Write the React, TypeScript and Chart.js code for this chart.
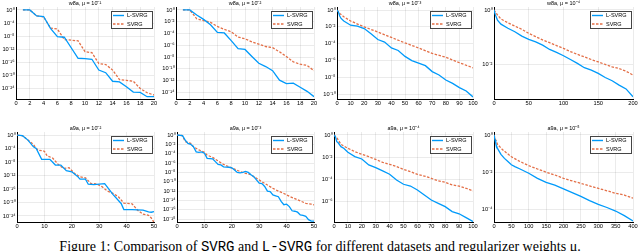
import React, { useEffect, useRef } from "react";
import { Chart, registerables } from "chart.js";
Chart.register(...registerables);

const BLUE = "#009AFA";
const ORANGE = "#E36F47";
const FONT = '"Liberation Sans", Arial, sans-serif';

// All y values are log10 of the plotted quantity (axis shown as powers of ten)
// Panel 1: w8a, mu = 1e-1
const p1X = [1, 2, 3, 4, 5, 6, 7, 8, 9, 10, 11, 12, 13, 14, 15, 16, 17, 18, 19, 20];
const p1L = [0, 0, -1.8, -2.0, -5.6, -8.1, -8.3, -11.5, -14.7, -14.8, -15.0, -18.3, -19.1, -21.7, -21.9, -23.4, -25.0, -25.1, -26.4, -26.4];
const p1S = [0, 0, -1.8, -2.1, -5.5, -5.8, -9.0, -9.2, -9.4, -12.7, -13.0, -16.3, -16.6, -18.3, -21.2, -21.4, -21.7, -23.9, -25.2, -25.9];
const p1YTicks = [0, -4, -8, -12, -16, -20, -24];
const p1XTicks = [0, 2, 4, 6, 8, 10, 12, 14, 16, 18, 20];

// Panel 2: w8a, mu = 1e-2
const p2X = [1, 2, 3, 4, 5, 6, 7, 8, 9, 10, 11, 12, 13, 14, 15, 16, 17, 18, 19, 20];
const p2L = [0, 0, -0.85, -1.6, -2.5, -3.8, -3.9, -5.2, -6.55, -6.7, -7.9, -9.05, -9.6, -10.3, -11.9, -12.5, -12.4, -13.1, -13.8, -14.7];
const p2S = [0, 0, -1.5, -1.8, -2.1, -2.8, -3.3, -3.7, -4.6, -4.9, -5.4, -5.8, -6.2, -6.4, -7.1, -7.9, -8.8, -9.2, -9.4, -10.3];
const p2YTicks = [0, -2, -4, -6, -8, -10, -12, -14];
const p2XTicks = [0, 2, 4, 6, 8, 10, 12, 14, 16, 18, 20];

// Panel 3: w8a, mu = 1e-3
const p3LX = [0, 1, 2, 3, 5, 10, 15, 20, 25, 30, 35, 40, 45, 50, 55, 60, 65, 70, 75, 80, 85, 90, 95, 100];
const p3L = [0, -0.2, -0.7, -1.0, -1.3, -1.8, -1.9, -2.2, -2.8, -3.5, -3.8, -4.5, -4.8, -5.5, -6.0, -6.3, -6.6, -7.3, -7.7, -8.3, -8.7, -9.2, -9.6, -10.3];
const p3SX = [0, 2, 5, 10, 20, 30, 40, 50, 60, 70, 80, 90, 100];
const p3S = [0, -0.4, -0.8, -1.3, -2.0, -2.6, -3.25, -3.9, -4.5, -5.15, -5.6, -6.25, -6.85];
const p3YTicks = [0, -2, -4, -6, -8, -10];
const p3XTicks = [0, 10, 20, 30, 40, 50, 60, 70, 80, 90, 100];

// Panel 4: w8a, mu = 1e-4
const p4LX = [0, 2, 5, 10, 20, 30, 40, 50, 60, 70, 80, 90, 100, 110, 120, 130, 140, 150, 160, 170, 180, 190, 200];
const p4L = [0, -0.18, -0.37, -0.52, -0.67, -0.8, -0.96, -1.08, -1.17, -1.29, -1.45, -1.56, -1.68, -1.82, -1.96, -2.12, -2.21, -2.33, -2.48, -2.6, -2.76, -2.9, -3.19];
const p4SX = [0, 5, 10, 20, 30, 40, 50, 60, 70, 80, 90, 100, 110, 120, 130, 140, 150, 160, 170, 180, 190, 200];
const p4S = [0, -0.18, -0.33, -0.47, -0.59, -0.71, -0.86, -0.98, -1.1, -1.2, -1.31, -1.41, -1.53, -1.63, -1.72, -1.82, -1.91, -2.0, -2.09, -2.15, -2.25, -2.39];
const p4YTicks = [0, -2];
const p4XTicks = [0, 50, 100, 150, 200];

// Panel 5: a9a, mu = 1e-2
const p5LX = [0, 2, 4, 6, 7, 9, 12, 14, 16, 18, 20, 22, 23, 25, 26, 28, 32, 35, 38, 39, 42, 46, 48, 49, 50];
const p5L = [0, -0.2, -1.5, -3.5, -4, -7.2, -7.2, -8.9, -8.9, -10.6, -10.9, -12.2, -13.1, -13.1, -14.6, -14.7, -14.4, -17.6, -20.3, -22.1, -22.1, -22.3, -22.8, -22.9, -22.7];
const p5SX = [0, 2, 4, 6, 7, 8, 10, 11, 13, 15, 17, 19, 21, 23, 25, 27, 29, 31, 33, 35, 37, 39, 42, 44, 46, 48, 49, 50];
const p5S = [0, -0.2, -1.5, -2.8, -4, -4.5, -4.8, -6.2, -6.8, -8.7, -9.9, -9.7, -11.4, -12.4, -12.7, -14.4, -14.5, -15.3, -16.6, -17.3, -18.3, -20.2, -20.4, -22.3, -23.5, -23.8, -24.6, -25.9];
const p5YTicks = [0, -4, -8, -12, -16, -20, -24];
const p5XTicks = [0, 10, 20, 30, 40, 50];

// Panel 6: a9a, mu = 1e-3
const p6LX = [0, 2, 3, 4, 5, 6, 7, 8, 9, 10, 11, 13, 14, 15, 16, 17, 19, 20, 21, 22, 23, 24, 25, 26, 27, 28, 29, 30, 31, 32, 33, 34, 35, 36, 37, 38, 39, 40, 41, 42, 43, 44, 45, 46, 47, 48, 49, 50];
const p6L = [0, -0.15, -1.1, -1.8, -2.0, -2.5, -3.6, -3.7, -3.6, -3.9, -5.0, -5.1, -5.7, -6.3, -6.4, -6.8, -6.9, -7.0, -7.5, -8.0, -8.1, -8.0, -7.8, -8.0, -8.5, -8.9, -9.6, -10.3, -10.4, -11.0, -12.0, -12.1, -12.8, -13.0, -13.2, -14.2, -14.9, -14.8, -15.3, -16.2, -16.3, -16.5, -17.1, -17.2, -17.4, -18.1, -18.4, -18.4];
const p6SX = [0, 2, 3, 4, 5, 6, 8, 10, 11, 13, 15, 17, 19, 21, 23, 25, 27, 29, 31, 33, 35, 37, 39, 41, 43, 45, 47, 49, 50];
const p6S = [0, -0.15, -1.4, -1.6, -1.8, -2.5, -3.2, -3.7, -4.3, -4.8, -5.55, -6.3, -6.8, -7.3, -7.8, -8.2, -8.5, -9.25, -10.0, -10.7, -11.4, -12.0, -12.5, -13.1, -13.6, -14.1, -14.6, -14.8, -14.95];
const p6YTicks = [0, -2, -4, -6, -8, -10, -12, -14, -16, -18];
const p6XTicks = [0, 10, 20, 30, 40, 50];

// Panel 7: a9a, mu = 1e-4
const p7LX = [0, 1, 2, 3, 5, 7, 10, 15, 20, 25, 30, 35, 40, 45, 50, 55, 60, 65, 70, 75, 80, 85, 90, 95, 100];
const p7L = [0, -0.15, -0.6, -0.7, -1.05, -1.2, -1.56, -1.95, -2.16, -2.7, -2.94, -3.24, -3.54, -4.05, -4.44, -4.6, -4.95, -5.4, -5.86, -6.16, -6.46, -6.9, -7.1, -7.45, -7.8];
const p7SX = [0, 2, 5, 10, 15, 20, 25, 30, 35, 40, 45, 50, 55, 60, 65, 70, 75, 80, 85, 90, 95, 100];
const p7S = [0, -0.24, -0.84, -1.2, -1.5, -1.74, -1.95, -2.2, -2.46, -2.64, -2.85, -3.1, -3.3, -3.54, -3.7, -3.9, -4.14, -4.26, -4.5, -4.6, -4.8, -5.04];
const p7YTicks = [0, -2, -4, -6];
const p7XTicks = [0, 10, 20, 30, 40, 50, 60, 70, 80, 90, 100];

// Panel 8: a9a, mu = 1e-5
const p8LX = [0, 3, 5, 10, 20, 30, 40, 50, 60, 75, 100, 125, 150, 175, 200, 225, 250, 275, 300, 325, 350, 375, 400];
const p8L = [0, -0.27, -0.45, -0.72, -1.04, -1.26, -1.43, -1.6, -1.7, -1.83, -2.06, -2.33, -2.55, -2.7, -2.9, -3.1, -3.3, -3.53, -3.73, -3.9, -4.09, -4.34, -4.63];
const p8SX = [0, 5, 10, 25, 50, 75, 100, 125, 150, 175, 200, 225, 250, 275, 300, 325, 350, 375, 400];
const p8S = [0, -0.27, -0.5, -0.8, -1.17, -1.43, -1.65, -1.83, -2.0, -2.15, -2.33, -2.47, -2.6, -2.74, -2.87, -3.0, -3.14, -3.23, -3.4];
const p8YTicks = [0, -2, -4];
const p8XTicks = [0, 50, 100, 150, 200, 250, 300, 350, 400];

const titles = [
  "w8a, μ = 10⁻¹", "w8a, μ = 10⁻²", "w8a, μ = 10⁻³", "w8a, μ = 10⁻⁴",
  "a9a, μ = 10⁻²", "a9a, μ = 10⁻³", "a9a, μ = 10⁻⁴", "a9a, μ = 10⁻⁵",
];
const seriesNames = ["L-SVRG", "SVRG"];

const SUP: Record<string, string> = {
  "0": "⁰", "1": "¹", "2": "²", "3": "³", "4": "⁴", "5": "⁵", "6": "⁶", "7": "⁷", "8": "⁸", "9": "⁹", "-": "⁻",
};
const pow10Label = (v: number) => "10" + String(v).split("").map((c) => SUP[c] ?? c).join("");

const zip = (xs: number[], ys: number[]) => xs.map((x, i) => ({ x, y: ys[i] }));

type Panel = {
  lx: number[]; l: number[]; sx: number[]; s: number[];
  yTicks: number[]; xTicks: number[]; yMin: number; yMax: number; xMax: number;
  yW: number; rPad: number;
};

const panels: Panel[] = [
  { lx: p1X, l: p1L, sx: p1X, s: p1S, yTicks: p1YTicks, xTicks: p1XTicks, yMin: -27.1, yMax: 0.9, xMax: 20, yW: 16, rPad: 6 },
  { lx: p2X, l: p2L, sx: p2X, s: p2S, yTicks: p2YTicks, xTicks: p2XTicks, yMin: -15.1, yMax: 0.5, xMax: 20, yW: 16, rPad: 6 },
  { lx: p3LX, l: p3L, sx: p3SX, s: p3S, yTicks: p3YTicks, xTicks: p3XTicks, yMin: -10.55, yMax: 0.36, xMax: 100, yW: 17, rPad: 7 },
  { lx: p4LX, l: p4L, sx: p4SX, s: p4S, yTicks: p4YTicks, xTicks: p4XTicks, yMin: -3.27, yMax: 0.11, xMax: 200, yW: 14, rPad: 7 },
  { lx: p5LX, l: p5L, sx: p5SX, s: p5S, yTicks: p5YTicks, xTicks: p5XTicks, yMin: -25.8, yMax: 0.9, xMax: 50, yW: 17, rPad: 6 },
  { lx: p6LX, l: p6L, sx: p6SX, s: p6S, yTicks: p6YTicks, xTicks: p6XTicks, yMin: -18.6, yMax: 0.64, xMax: 50, yW: 17, rPad: 6 },
  { lx: p7LX, l: p7L, sx: p7SX, s: p7S, yTicks: p7YTicks, xTicks: p7XTicks, yMin: -7.84, yMax: 0.27, xMax: 100, yW: 14, rPad: 7 },
  { lx: p8LX, l: p8L, sx: p8SX, s: p8S, yTicks: p8YTicks, xTicks: p8XTicks, yMin: -4.68, yMax: 0.16, xMax: 400, yW: 14, rPad: 7 },
];

function PanelChart({ idx }: { idx: number }) {
  const ref = useRef<HTMLCanvasElement>(null);
  const p = panels[idx];
  const row = Math.floor(idx / 4);
  const col = idx % 4;
  const top = row === 0 ? 0 : 122;
  const height = row === 0 ? 110 : 111;
  const padTop = row === 0 ? 7 : 10;

  useEffect(() => {
    if (!ref.current) return;
    const title = titles[idx];
    const overlay = {
      id: "overlay" + idx,
      afterDraw(chart: any) {
        const { ctx, chartArea: ca } = chart;
        ctx.save();
        // title
        ctx.fillStyle = "#000";
        ctx.font = `5.5px ${FONT}`;
        ctx.textAlign = "center";
        ctx.textBaseline = "middle";
        ctx.fillText(title, (ca.left + ca.right) / 2, ca.top - 3.5);
        // legend
        const w = 42, h = 18;
        const x0 = Math.round(ca.right - w - 1);
        const y0 = Math.round(ca.top + 4);
        ctx.fillStyle = "#fff";
        ctx.fillRect(x0, y0, w, h);
        ctx.strokeStyle = "#444";
        ctx.lineWidth = 1;
        ctx.strokeRect(x0 + 0.5, y0 + 0.5, w - 1, h - 1);
        const rows = [
          { name: seriesNames[0], color: BLUE, dash: [] as number[], y: y0 + 4.5 },
          { name: seriesNames[1], color: ORANGE, dash: [2.5, 1.5], y: y0 + 13 },
        ];
        rows.forEach((r) => {
          ctx.strokeStyle = r.color;
          ctx.lineWidth = 1.4;
          ctx.setLineDash(r.dash);
          ctx.beginPath();
          ctx.moveTo(x0 + 2, r.y);
          ctx.lineTo(x0 + 13, r.y);
          ctx.stroke();
          ctx.setLineDash([]);
          ctx.fillStyle = "#000";
          ctx.font = `5.5px ${FONT}`;
          ctx.textAlign = "left";
          ctx.textBaseline = "middle";
          ctx.fillText(r.name, x0 + 16, r.y + 0.3);
        });
        ctx.restore();
      },
    };

    const chart = new Chart(ref.current, {
      type: "line",
      data: {
        datasets: [
          {
            label: seriesNames[0],
            data: zip(p.lx, p.l),
            borderColor: BLUE,
            borderWidth: 1.3,
            pointRadius: 0,
            tension: 0,
          },
          {
            label: seriesNames[1],
            data: zip(p.sx, p.s),
            borderColor: ORANGE,
            borderWidth: 1.3,
            borderDash: [2.5, 1.5],
            pointRadius: 0,
            tension: 0,
          },
        ],
      },
      options: {
        responsive: false,
        animation: false,
        events: [],
        layout: { autoPadding: false, padding: { left: 0, right: p.rPad, top: padTop, bottom: 0 } },
        plugins: { legend: { display: false }, tooltip: { enabled: false }, title: { display: false } },
        scales: {
          x: {
            type: "linear",
            min: 0,
            max: p.xMax,
            afterBuildTicks: (s: any) => { s.ticks = p.xTicks.map((v) => ({ value: v })); },
            afterFit: (s: any) => { s.height = 11; },
            ticks: {
              autoSkip: false,
              maxRotation: 0,
              padding: 1,
              color: "#000",
              font: { family: FONT, size: 5.7 },
              callback: (v: any) => String(v),
            },
            grid: { color: "rgba(0,0,0,0.08)", lineWidth: 1, drawTicks: false },
            border: { display: true, color: "#000", width: 1 },
          },
          y: {
            type: "linear",
            min: p.yMin,
            max: p.yMax,
            afterBuildTicks: (s: any) => { s.ticks = p.yTicks.map((v) => ({ value: v })); },
            afterFit: (s: any) => { s.width = p.yW; },
            ticks: {
              autoSkip: false,
              padding: 1.5,
              color: "#000",
              font: { family: FONT, size: 5.7 },
              callback: (v: any) => pow10Label(Number(v)),
            },
            grid: { color: "rgba(0,0,0,0.08)", lineWidth: 1, drawTicks: false },
            border: { display: true, color: "#000", width: 1 },
          },
        },
      },
      plugins: [overlay],
    } as any);
    return () => chart.destroy();
  }, []);

  return (
    <canvas
      ref={ref}
      width={160}
      height={height}
      style={{ position: "absolute", left: col * 160, top, width: 160, height }}
    />
  );
}

export default function App() {
  return (
    <div
      style={{
        position: "fixed",
        left: 0,
        top: 0,
        width: 640,
        height: 251,
        background: "#fff",
        overflow: "hidden",
      }}
    >
      {panels.map((_, i) => (
        <PanelChart key={i} idx={i} />
      ))}
      <div
        style={{
          position: "absolute",
          left: 0,
          top: 240,
          width: 640,
          textAlign: "center",
          fontFamily: '"Liberation Serif", "Times New Roman", serif',
          fontSize: 14,
          lineHeight: "14px",
          whiteSpace: "nowrap",
          color: "#000",
        }}
      >
        Figure 1: Comparison of{" "}
        <span style={{ fontFamily: '"Liberation Mono", "DejaVu Sans Mono", monospace' }}>SVRG</span> and{" "}
        <span style={{ fontFamily: '"Liberation Mono", "DejaVu Sans Mono", monospace' }}>L-SVRG</span> for different
        datasets and regularizer weights μ.
      </div>
    </div>
  );
}
